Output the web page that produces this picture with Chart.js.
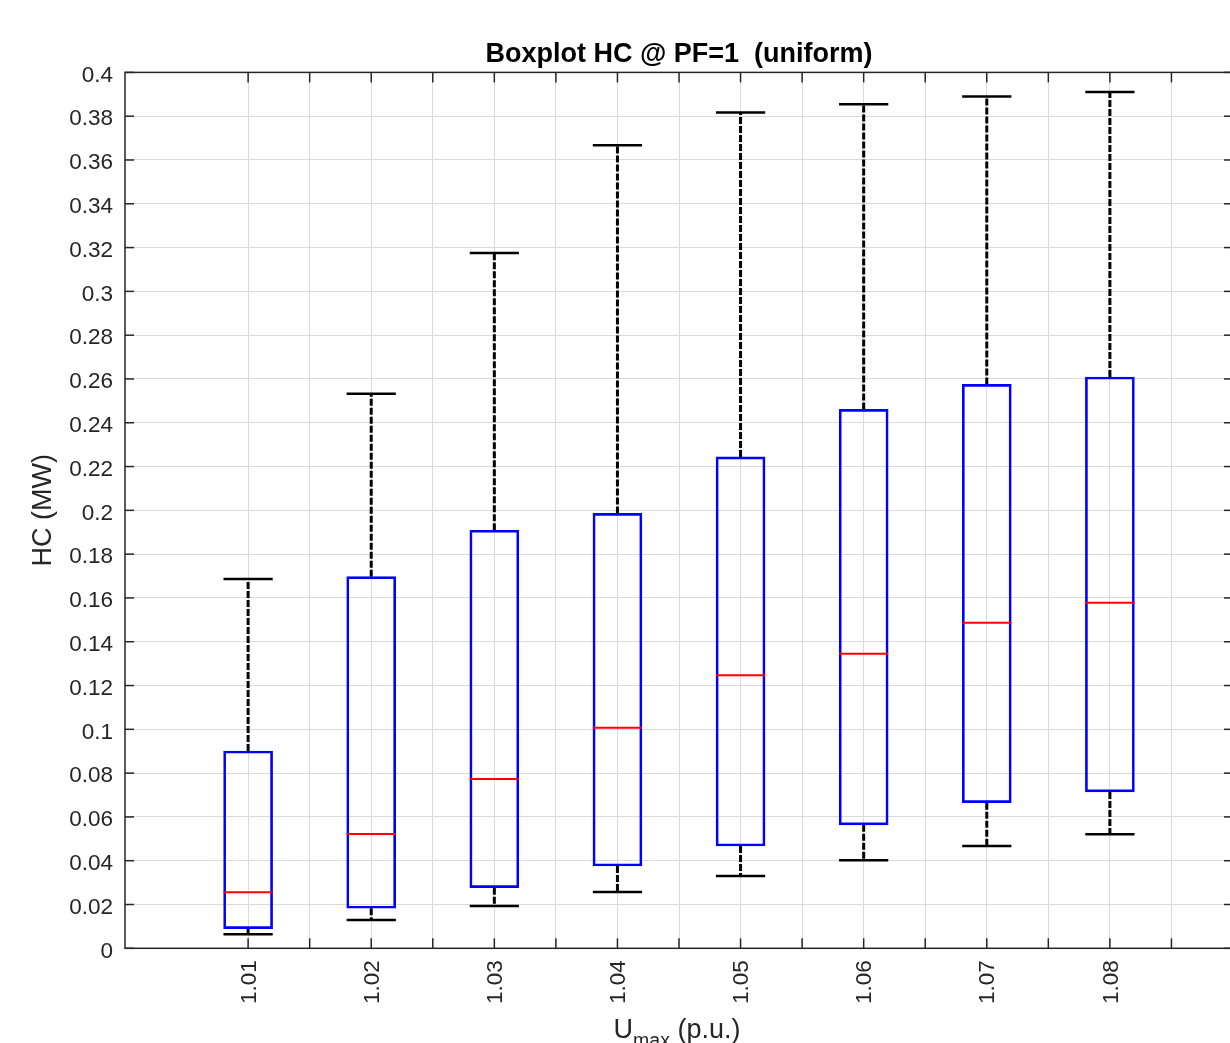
<!DOCTYPE html>
<html>
<head>
<meta charset="utf-8">
<title>Boxplot HC @ PF=1 (uniform)</title>
<script src="https://cdn.jsdelivr.net/npm/chart.js@4.4.1/dist/chart.umd.min.js"></script>
<style>
  html, body { margin: 0; padding: 0; background: #fff; overflow: hidden; }
  #wrap { width: 1236px; height: 1043px; position: relative; }
</style>
</head>
<body>
<div id="wrap"><canvas id="boxChart"></canvas></div>
<script>
// ------------------------------------------------------------
// DATA
// ------------------------------------------------------------

const categories = ["1.01", "1.02", "1.03", "1.04", "1.05", "1.06", "1.07", "1.08"];

const whiskerLow  = [0.0064, 0.0129, 0.0193, 0.0257, 0.0330, 0.0402, 0.0467, 0.0521];
const quartile1   = [0.0090, 0.0183, 0.0277, 0.0376, 0.0467, 0.0564, 0.0665, 0.0714];
const medians     = [0.0256, 0.0522, 0.0773, 0.1007, 0.1247, 0.1345, 0.1487, 0.1578];
const quartile3   = [0.0901, 0.1697, 0.1909, 0.1986, 0.2244, 0.2461, 0.2575, 0.2609];
const whiskerHigh = [0.1686, 0.2532, 0.3175, 0.3667, 0.3817, 0.3855, 0.3890, 0.3911];

// x tick / grid positions (category slots and the half-way points)
const xTickPositions = [1, 1.5, 2, 2.5, 3, 3.5, 4, 4.5, 5, 5.5, 6, 6.5, 7, 7.5, 8, 8.5];

const FONT = "'Liberation Sans', Arial, Helvetica, sans-serif";
const AXIS_COLOR = "#262626";
const GRID_COLOR = "#dadada";


// ------------------------------------------------------------
// WHISKERS, MEDIANS, AXES FRAME
// ------------------------------------------------------------

function line(ctx, x1, y1, x2, y2) {
  ctx.beginPath();
  ctx.moveTo(x1, y1);
  ctx.lineTo(x2, y2);
  ctx.stroke();
}

const boxWhiskers = {
  id: "boxWhiskers",

  beforeDatasetsDraw(chart) {
    const { ctx, scales: { x, y } } = chart;
    const half = x.getPixelForValue(1.2) - x.getPixelForValue(1);

    ctx.save();
    ctx.strokeStyle = "#000";

    categories.forEach((c, i) => {
      const px = x.getPixelForValue(i + 1);
      const yHigh = y.getPixelForValue(whiskerHigh[i]);
      const yLow = y.getPixelForValue(whiskerLow[i]);

      ctx.lineWidth = 3;
      ctx.setLineDash([7, 2]);
      line(ctx, px, y.getPixelForValue(quartile3[i]), px, yHigh);
      line(ctx, px, y.getPixelForValue(quartile1[i]), px, yLow);

      ctx.setLineDash([]);
      ctx.lineWidth = 2.5;
      line(ctx, px - half, yHigh, px + half, yHigh);
      line(ctx, px - half, yLow, px + half, yLow);
    });

    ctx.restore();
  },

  afterDatasetsDraw(chart) {
    const { ctx, chartArea: a, scales: { x, y } } = chart;
    const half = x.getPixelForValue(1.2) - x.getPixelForValue(1);

    ctx.save();

    // medians
    ctx.strokeStyle = "#ff0000";
    ctx.lineWidth = 2;
    categories.forEach((c, i) => {
      const px = x.getPixelForValue(i + 1);
      const py = y.getPixelForValue(medians[i]);
      line(ctx, px - half, py, px + half, py);
    });

    // box frame with inward ticks
    ctx.strokeStyle = AXIS_COLOR;
    ctx.lineWidth = 1.5;
    ctx.strokeRect(a.left, a.top, a.right - a.left, a.bottom - a.top);

    y.ticks.forEach(t => {
      const py = y.getPixelForValue(t.value);
      line(ctx, a.left, py, a.left + 9, py);
      line(ctx, a.right, py, a.right - 9, py);
    });

    x.ticks.forEach(t => {
      const px = x.getPixelForValue(t.value);
      line(ctx, px, a.bottom, px, a.bottom - 10);
      line(ctx, px, a.top, px, a.top + 10);
    });

    // x axis title with subscript: U_max (p.u.)
    const mainFont = "27px " + FONT;
    const subFont = "19.5px " + FONT;
    ctx.fillStyle = AXIS_COLOR;
    ctx.textBaseline = "alphabetic";
    ctx.textAlign = "left";

    ctx.font = mainFont;
    const wU = ctx.measureText("U").width;
    const wRest = ctx.measureText(" (p.u.)").width;
    ctx.font = subFont;
    const wSub = ctx.measureText("max").width;

    const baseY = a.bottom + 90;
    let tx = (a.left + a.right) / 2 - (wU + wSub + wRest) / 2 - 2;

    ctx.font = mainFont;
    ctx.fillText("U", tx, baseY);
    tx += wU;
    ctx.font = subFont;
    ctx.fillText("max", tx, baseY + 8.5);
    tx += wSub;
    ctx.font = mainFont;
    ctx.fillText(" (p.u.)", tx, baseY);

    ctx.restore();
  }
};


// ------------------------------------------------------------
// CHART
// ------------------------------------------------------------

const ctx = document.getElementById("boxChart").getContext("2d");

new Chart(ctx, {
  type: "bar",
  data: {
    datasets: [{
      data: categories.map((c, i) => ({ x: i + 1, y: [quartile1[i], quartile3[i]] })),
      backgroundColor: "rgba(0,0,0,0)",
      borderColor: "#0000ff",
      borderWidth: 2,
      borderSkipped: false,
      barThickness: 49,
      grouped: false
    }]
  },
  options: {
    responsive: true,
    maintainAspectRatio: false,
    animation: false,
    events: [],
    layout: { padding: { left: 0, right: 3, top: 0, bottom: 0 } },
    plugins: {
      legend: { display: false },
      tooltip: { enabled: false },
      title: {
        display: true,
        text: "Boxplot HC @ PF=1  (uniform)",
        fullSize: false,
        color: "#000",
        font: { family: FONT, size: 27, weight: "bold" },
        padding: { top: 38, bottom: 2 }
      }
    },
    scales: {
      x: {
        type: "linear",
        min: 0,
        max: 9,
        offset: false,
        afterBuildTicks: (scale) => {
          scale.ticks = xTickPositions.map(v => ({ value: v }));
        },
        afterFit: (scale) => { scale.height = 94.7; },
        ticks: {
          autoSkip: false,
          minRotation: 90,
          maxRotation: 90,
          padding: 12,
          labelOffset: 1.5,
          color: AXIS_COLOR,
          font: { family: FONT, size: 22.5 },
          callback: (v) => Number.isInteger(v) ? categories[v - 1] : ""
        },
        grid: { color: GRID_COLOR, lineWidth: 1, drawTicks: false, offset: false },
        border: { display: false }
      },
      y: {
        min: 0,
        max: 0.4,
        afterFit: (scale) => { scale.width = 125; },
        ticks: {
          stepSize: 0.02,
          padding: 12,
          labelOffset: 3,
          color: AXIS_COLOR,
          font: { family: FONT, size: 22.5 },
          callback: (v) => String(+v.toFixed(2))
        },
        grid: { color: GRID_COLOR, lineWidth: 1, drawTicks: false },
        border: { display: false },
        title: {
          display: true,
          text: "HC (MW)",
          color: AXIS_COLOR,
          font: { family: FONT, size: 27 },
          padding: { top: 27, bottom: 0 }
        }
      }
    }
  },
  plugins: [boxWhiskers]
});
</script>
</body>
</html>
